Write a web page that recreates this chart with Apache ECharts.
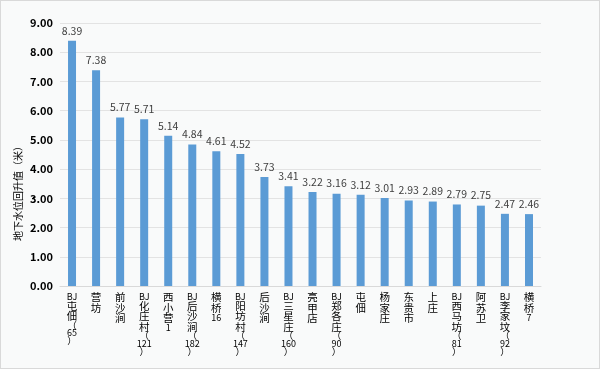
<!DOCTYPE html>
<html>
<head>
<meta charset="utf-8">
<script src="https://cdn.jsdelivr.net/npm/echarts@6/dist/echarts.min.js"></script>
<style>
html,body{margin:0;padding:0;background:#fff;}
#c{width:600px;height:369px;box-sizing:border-box;border:1px solid #D9D9D9;background:#F9FAFA;}
</style>
</head>
<body>
<div id="c"></div>
<script>
const categories = ["BJ屯佃（65）","营坊","前沙涧","BJ化庄村（121）","西小营1","BJ后沙涧（182）","横桥16","BJ阳坊村（147）","后沙涧","BJ三星庄（160）","亮甲店","BJ郑各庄（90）","屯佃","杨家庄","东贵市","上庄","BJ西马坊（81）","阿苏卫","BJ李家坟（92）","横桥7"];
const values = [8.39,7.38,5.77,5.71,5.14,4.84,4.61,4.52,3.73,3.41,3.22,3.16,3.12,3.01,2.93,2.89,2.79,2.75,2.47,2.46];
const yAxisName = "地下水位回升值（米）";

function vertical(s){
  // stack characters vertically, keeping Latin/digit runs together
  const parts = s.match(/[A-Za-z0-9.]+|./g) || [];
  return parts.map(p => {
    if (/^[A-Za-z0-9.]+$/.test(p)) return '{l|' + p + '}';
    if (p === '（' || p === '）') return '{p|' + p + '}';
    return '{c|' + p + '}';
  }).join("\n");
}

const chart = echarts.init(document.getElementById('c'), null, {renderer:'canvas'});
chart.setOption({
  backgroundColor: 'transparent',
  textStyle: {fontFamily: '"Noto Sans CJK SC","Noto Sans",sans-serif'},
  grid: {left: 59, right: 58, top: 22, bottom: 82, containLabel: false},
  xAxis: {
    type: 'category',
    data: categories,
    axisLine: {show: true, lineStyle: {color: '#D9D9D9'}},
    axisTick: {show: false},
    axisLabel: {
      interval: 0,
      margin: 6,
      fontSize: 11,
      color: '#000',
      align: 'center',
      formatter: v => vertical(v),
      rich: {
        c: {fontSize: 10.5, lineHeight: 10.5, color: '#000', align: 'center'},
        l: {fontSize: 9, lineHeight: 8.5, color: '#000', align: 'center'},
        p: {fontSize: 9.5, lineHeight: 7, color: '#000', align: 'center'}
      }
    }
  },
  yAxis: {
    type: 'value',
    min: 0, max: 9, interval: 1,
    axisLine: {show: false},
    axisTick: {show: false},
    splitLine: {lineStyle: {color: '#E3E3E3'}},
    axisLabel: {
      margin: 7,
      fontSize: 11,
      fontWeight: 'bold',
      color: '#000',
      formatter: v => v.toFixed(2)
    }
  },
  graphic: [{
    type: 'text',
    x: 17,
    y: 190,
    rotation: Math.PI/2,
    style: {
      text: yAxisName,
      font: '10px "Noto Sans CJK SC"',
      fill: '#000',
      align: 'center',
      verticalAlign: 'middle'
    }
  }],
  series: [{
    type: 'bar',
    data: values,
    barWidth: 8,
    itemStyle: {color: '#5B9BD5'},
    label: {
      show: true,
      position: 'top',
      distance: 5,
      fontSize: 10.5,
      color: '#404040',
      formatter: p => p.value.toFixed(2)
    }
  }]
});
</script>
</body>
</html>
